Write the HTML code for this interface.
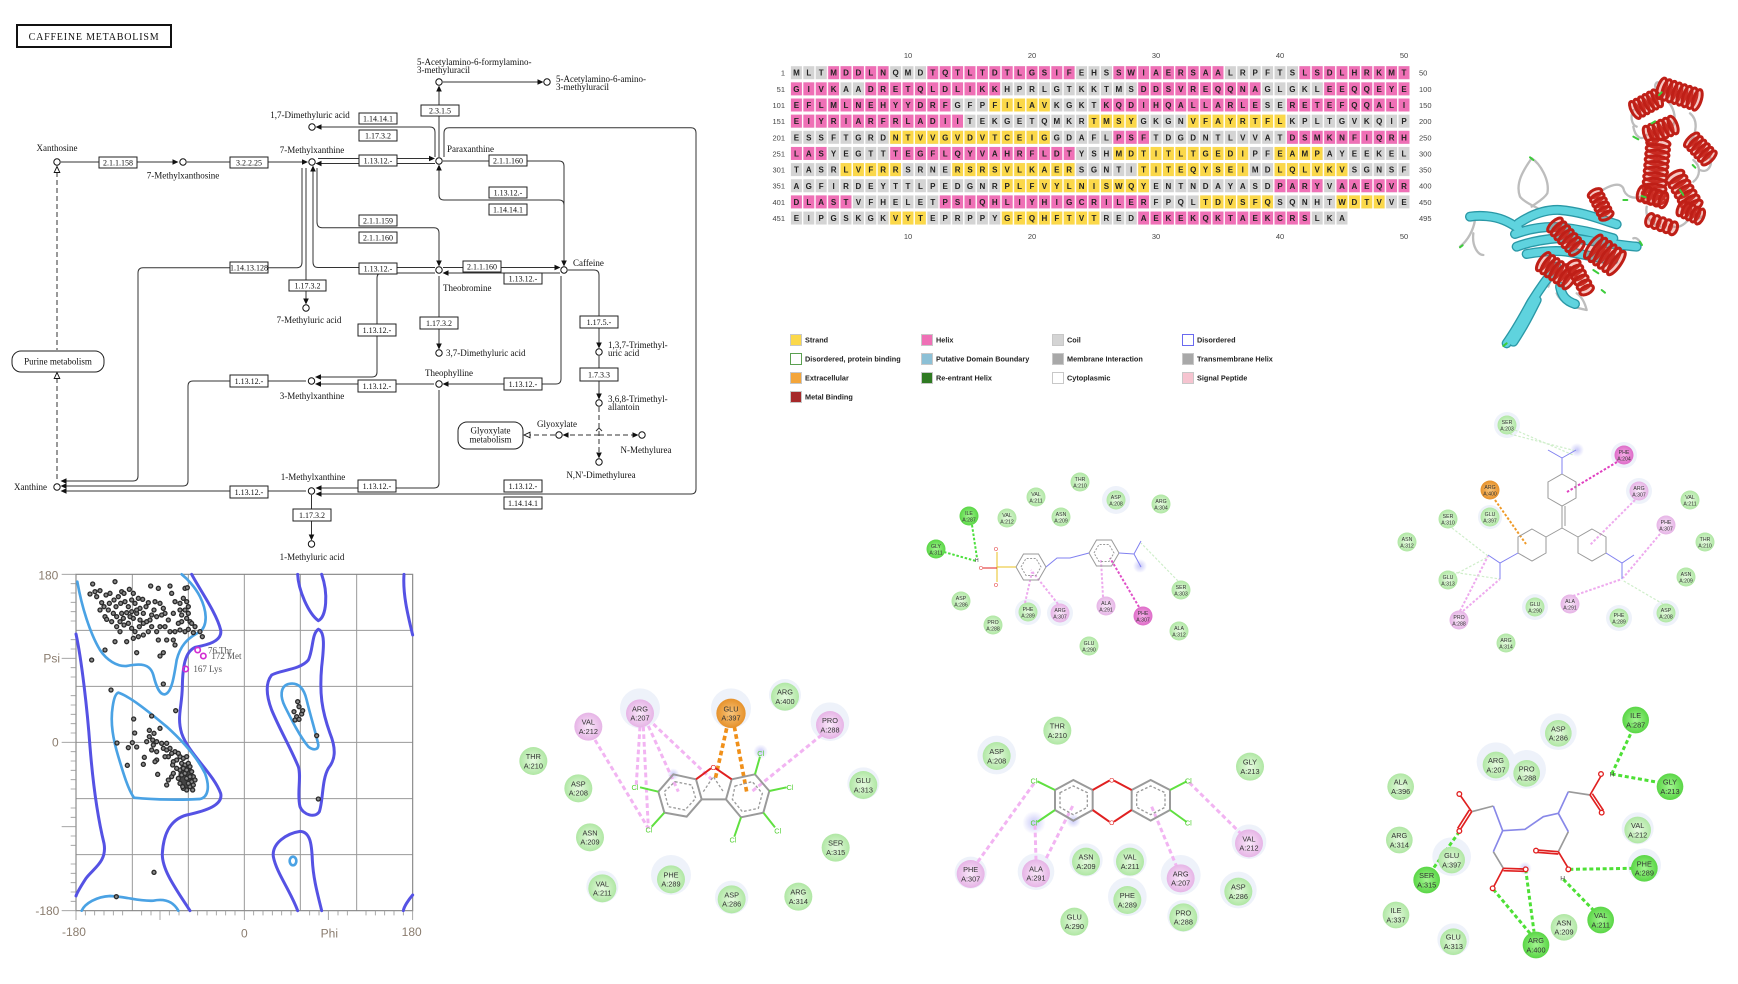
<!DOCTYPE html>
<html><head><meta charset="utf-8"><style>
html,body{margin:0;padding:0;background:#fff}
svg{display:block}
.k{font-family:"Liberation Serif",serif;font-size:9px;fill:#111}
.km{font-family:"Liberation Serif",serif;font-size:9px;fill:#111;text-anchor:middle}
.bx rect{fill:#fff;stroke:#222;stroke-width:1}
.bx text{font-family:"Liberation Serif",serif;font-size:8px;fill:#111;text-anchor:middle}
.ln{fill:none;stroke:#333;stroke-width:1}
.ds{fill:none;stroke:#333;stroke-width:1;stroke-dasharray:5,3}
.ci{fill:#fff;stroke:#111;stroke-width:1}
.seq{font-family:"Liberation Sans",sans-serif;font-weight:bold;font-size:8px;fill:#222;text-anchor:middle}
.sn{font-family:"Liberation Sans",sans-serif;font-size:7.5px;fill:#444}
.lg{font-family:"Liberation Sans",sans-serif;font-weight:bold;font-size:7.3px;fill:#222}
.n{font-family:"Liberation Sans",sans-serif;font-size:22px;fill:#333;text-anchor:middle}
.ns{font-family:"Liberation Sans",sans-serif;font-size:5.2px;fill:#333;text-anchor:middle}
.ax{font-family:"Liberation Sans",sans-serif;font-size:36px;fill:#8a7c6e}
.hx ellipse{fill:#e04a3a;fill-opacity:0.3;stroke:#bf1f17;stroke-width:9}
</style></head><body>
<svg width="1738" height="984" viewBox="0 0 1738 984" xmlns="http://www.w3.org/2000/svg">
<defs>
<radialGradient id="gL"><stop offset="0" stop-color="#e6fae0"/><stop offset="1" stop-color="#b0e7a4"/></radialGradient>
<radialGradient id="gG"><stop offset="0" stop-color="#a2f590"/><stop offset="1" stop-color="#5ad646"/></radialGradient>
<radialGradient id="gP"><stop offset="0" stop-color="#f9e8f9"/><stop offset="1" stop-color="#e6b4e6"/></radialGradient>
<radialGradient id="gM"><stop offset="0" stop-color="#f5aee8"/><stop offset="1" stop-color="#de6cc8"/></radialGradient>
<radialGradient id="gO"><stop offset="0" stop-color="#f8c47a"/><stop offset="1" stop-color="#e6922c"/></radialGradient>
<radialGradient id="gB"><stop offset="0" stop-color="#c8c8f8"/><stop offset="1" stop-color="#c8c8f8" stop-opacity="0"/></radialGradient>
<pattern id="gap" patternUnits="userSpaceOnUse" x="789.5" y="0" width="12.4" height="20"><rect x="0" y="0" width="1.4" height="20" fill="#fff"/></pattern>
</defs>
<rect width="1738" height="984" fill="#fff"/>

<!-- ================= KEGG ================= -->
<rect x="17" y="25" width="154" height="22" fill="#fff" stroke="#111" stroke-width="2"/>
<text x="94" y="40" style="font-family:'Liberation Serif',serif;font-size:10px;fill:#111;text-anchor:middle;letter-spacing:0.8px">CAFFEINE  METABOLISM</text>

<g>
<path class="ln" d="M61,162 H173"/>
<path class="ln" d="M187,162 H302"/>
<path class="ds" d="M57,172 V350"/>
<path class="ds" d="M57,378 V482"/>
<path class="ln" d="M318,158.5 H430"/>
<path class="ln" d="M435,163.5 H321"/>
<path class="ln" d="M321,127 H430 Q435,127 435,132 V157"/>
<path class="ln" d="M439,157 V91"/>
<path class="ln" d="M443,82 H538"/>
<path class="ln" d="M444,157 V133 Q444,127.7 449,127.7 H691 Q696,127.7 696,133 V489 Q696,494 691,494 H321"/>
<path class="ln" d="M443,161 H559 Q564,161 564,166 V261"/>
<path class="ln" d="M439,170 V195 Q439,200 444,200 H559 Q564,200 564,205"/>
<path class="ln" d="M317,168 V222 Q317,227.7 322,227.7 H434 Q439,227.7 439,233 V261"/>
<path class="ln" d="M435,267.5 H318 Q313,267.5 313,262 V171"/>
<path class="ln" d="M302,168 V262 Q302,267.7 297,267.7 H143 Q138,267.7 138,273 V476 Q138,481 133,481 H66"/>
<path class="ln" d="M306,168 V299"/>
<path class="ln" d="M435,273 H382 Q377,273 377,278 V372 Q377,377 372,377 H321"/>
<path class="ln" d="M434,384 H321"/>
<path class="ln" d="M306,381 H193 Q188,381 188,386 V481 Q188,486 183,486 H66"/>
<path class="ln" d="M561,276 V379 Q561,384 556,384 H448"/>
<path class="ln" d="M439,390 V483 Q439,488 434,488 H321"/>
<path class="ln" d="M439,276 V344"/>
<path class="ln" d="M568,270 H594 Q599,270 599,275 V343"/>
<path class="ln" d="M443,267.5 H555"/>
<path class="ln" d="M560,273 H448"/>
<path class="ln" d="M599,356 V394"/>
<path class="ds" d="M599,407 V453"/>
<path class="ds" d="M599,435 H568"/>
<path class="ds" d="M599,435 H633"/>
<path class="ds" d="M555,435 H530"/>
<path class="ln" d="M306,491 H66"/>
<path class="ln" d="M311.5,495 V535"/>
<path class="ln" d="M596,431 L599,428 L602,431"/>
</g>
<g fill="#111">
<polygon points="178.5,162 172.5,159.2 172.5,164.8"/>
<polygon points="308,162 302,159.2 302,164.8"/>
<polygon points="435,158.5 429,155.7 429,161.3"/>
<polygon points="315.5,163.5 321.5,160.7 321.5,166.3"/>
<polygon points="315.5,127 321.5,124.2 321.5,129.8"/>
<polygon points="439,85.5 436.2,91.5 441.8,91.5"/>
<polygon points="543.5,82 537.5,79.2 537.5,84.8"/>
<polygon points="315.5,494 321.5,491.2 321.5,496.8"/>
<polygon points="564,266.5 561.2,260.5 566.8,260.5"/>
<polygon points="439,164.5 436.2,170.5 441.8,170.5"/>
<polygon points="439,266.5 436.2,260.5 441.8,260.5"/>
<polygon points="313,165.5 310.2,171.5 315.8,171.5"/>
<polygon points="60.5,481 66.5,478.2 66.5,483.8"/>
<polygon points="306,304.5 303.2,298.5 308.8,298.5"/>
<polygon points="315,377 321,374.2 321,379.8"/>
<polygon points="315,384 321,381.2 321,386.8"/>
<polygon points="60.5,486 66.5,483.2 66.5,488.8"/>
<polygon points="442.5,384 448.5,381.2 448.5,386.8"/>
<polygon points="315.5,488 321.5,485.2 321.5,490.8"/>
<polygon points="439,349.5 436.2,343.5 441.8,343.5"/>
<polygon points="599,348.5 596.2,342.5 601.8,342.5"/>
<polygon points="560.5,267.5 554.5,264.7 554.5,270.3"/>
<polygon points="442.5,273 448.5,270.2 448.5,275.8"/>
<polygon points="599,399.5 596.2,393.5 601.8,393.5"/>
<polygon points="599,458.5 596.2,452.5 601.8,452.5"/>
<polygon points="562.5,435 568.5,432.2 568.5,437.8"/>
<polygon points="638.5,435 632.5,432.2 632.5,437.8"/>
<polygon points="60.5,491 66.5,488.2 66.5,493.8"/>
<polygon points="311.5,540.5 308.7,534.5 314.3,534.5"/>
</g>
<g fill="#fff" stroke="#111" stroke-width="0.9">
<polygon points="524,435 530,432.2 530,437.8"/>
<polygon points="57,166.5 54.2,172.5 59.8,172.5"/>
<polygon points="57,372.5 54.2,378.5 59.8,378.5"/>
</g>
<rect x="12" y="351" width="92" height="21" rx="9" fill="#fff" stroke="#222"/>
<text class="km" x="58" y="364.5">Purine metabolism</text>
<rect x="458" y="422" width="65" height="27" rx="9" fill="#fff" stroke="#222"/>
<text class="km" x="490.5" y="433.5">Glyoxylate</text>
<text class="km" x="490.5" y="442.5">metabolism</text>

<g class="bx">
<rect x="99" y="157" width="38" height="11"/><text x="118" y="165.5">2.1.1.158</text>
<rect x="230" y="157" width="38" height="11"/><text x="249" y="165.5">3.2.2.25</text>
<rect x="230" y="262" width="38" height="11"/><text x="249" y="270.5">1.14.13.128</text>
<rect x="289" y="280" width="37" height="11"/><text x="307.5" y="288.5">1.17.3.2</text>
<rect x="359" y="113" width="38" height="11"/><text x="378" y="121.5">1.14.14.1</text>
<rect x="359" y="130" width="38" height="11"/><text x="378" y="138.5">1.17.3.2</text>
<rect x="359" y="155" width="38" height="11"/><text x="378" y="163.5">1.13.12.-</text>
<rect x="421" y="105" width="38" height="11"/><text x="440" y="113.5">2.3.1.5</text>
<rect x="489" y="155" width="38" height="11"/><text x="508" y="163.5">2.1.1.160</text>
<rect x="489" y="187" width="38" height="11"/><text x="508" y="195.5">1.13.12.-</text>
<rect x="489" y="204" width="38" height="11"/><text x="508" y="212.5">1.14.14.1</text>
<rect x="359" y="215" width="38" height="11"/><text x="378" y="223.5">2.1.1.159</text>
<rect x="359" y="232" width="38" height="11"/><text x="378" y="240.5">2.1.1.160</text>
<rect x="359" y="263" width="38" height="11"/><text x="378" y="271.5">1.13.12.-</text>
<rect x="463" y="261" width="38" height="11"/><text x="482" y="269.5">2.1.1.160</text>
<rect x="504" y="273" width="38" height="11"/><text x="523" y="281.5">1.13.12.-</text>
<rect x="420" y="317" width="38" height="12"/><text x="439" y="326">1.17.3.2</text>
<rect x="580" y="316" width="38" height="12"/><text x="599" y="325">1.17.5.-</text>
<rect x="358" y="324" width="38" height="12"/><text x="377" y="333">1.13.12.-</text>
<rect x="580" y="368" width="38" height="13"/><text x="599" y="377.5">1.7.3.3</text>
<rect x="230" y="375" width="38" height="12"/><text x="249" y="384">1.13.12.-</text>
<rect x="358" y="380" width="38" height="12"/><text x="377" y="389">1.13.12.-</text>
<rect x="504" y="378" width="38" height="12"/><text x="523" y="387">1.13.12.-</text>
<rect x="230" y="486" width="38" height="12"/><text x="249" y="495">1.13.12.-</text>
<rect x="358" y="480" width="38" height="12"/><text x="377" y="489">1.13.12.-</text>
<rect x="504" y="480" width="38" height="12"/><text x="523" y="489">1.13.12.-</text>
<rect x="504" y="497" width="38" height="12"/><text x="523" y="506">1.14.14.1</text>
<rect x="293" y="509" width="38" height="12"/><text x="312" y="518">1.17.3.2</text>
</g>
<g>
<circle class="ci" cx="57" cy="162" r="3.2"/>
<circle class="ci" cx="183" cy="162" r="3.2"/>
<circle class="ci" cx="312" cy="162" r="3.2"/>
<circle class="ci" cx="312" cy="127" r="3.2"/>
<circle class="ci" cx="439" cy="161" r="3.2"/>
<circle class="ci" cx="439" cy="82" r="3.2"/>
<circle class="ci" cx="547" cy="82" r="3.2"/>
<circle class="ci" cx="439" cy="270" r="3.2"/>
<circle class="ci" cx="564" cy="270" r="3.2"/>
<circle class="ci" cx="306" cy="308" r="3.2"/>
<circle class="ci" cx="439" cy="353" r="3.2"/>
<circle class="ci" cx="599" cy="352" r="3.2"/>
<circle class="ci" cx="311.5" cy="381" r="3.2"/>
<circle class="ci" cx="439" cy="384" r="3.2"/>
<circle class="ci" cx="599" cy="403" r="3.2"/>
<circle class="ci" cx="559" cy="435" r="3.2"/>
<circle class="ci" cx="642" cy="435" r="3.2"/>
<circle class="ci" cx="599" cy="462" r="3.2"/>
<circle class="ci" cx="57" cy="487" r="3.2"/>
<circle class="ci" cx="311.5" cy="491" r="3.2"/>
<circle class="ci" cx="311.5" cy="544" r="3.2"/>
</g>
<g>
<text class="km" x="57" y="151">Xanthosine</text>
<text class="km" x="183" y="178.5">7-Methylxanthosine</text>
<text class="km" x="312" y="153">7-Methylxanthine</text>
<text class="km" x="310" y="118">1,7-Dimethyluric acid</text>
<text class="k" x="417" y="65">5-Acetylamino-6-formylamino-</text>
<text class="k" x="417" y="73">3-methyluracil</text>
<text class="k" x="556" y="82">5-Acetylamino-6-amino-</text>
<text class="k" x="556" y="90">3-methyluracil</text>
<text class="k" x="447" y="152">Paraxanthine</text>
<text class="k" x="443" y="291">Theobromine</text>
<text class="k" x="573" y="266">Caffeine</text>
<text class="km" x="309" y="323">7-Methyluric acid</text>
<text class="k" x="446" y="356">3,7-Dimethyluric acid</text>
<text class="k" x="608" y="348">1,3,7-Trimethyl-</text>
<text class="k" x="608" y="356">uric acid</text>
<text class="km" x="449" y="376">Theophylline</text>
<text class="km" x="312" y="399">3-Methylxanthine</text>
<text class="k" x="608" y="402">3,6,8-Trimethyl-</text>
<text class="k" x="608" y="410">allantoin</text>
<text class="km" x="557" y="427">Glyoxylate</text>
<text class="km" x="646" y="453">N-Methylurea</text>
<text class="km" x="601" y="478">N,N'-Dimethylurea</text>
<text class="km" x="313" y="480">1-Methylxanthine</text>
<text class="km" x="312" y="560">1-Methyluric acid</text>
<text class="k" x="47" y="490" text-anchor="end">Xanthine</text>
</g>

<!-- ================= SEQUENCE ================= -->
<g class="sn">
<text x="908" y="58" text-anchor="middle">10</text><text x="1032" y="58" text-anchor="middle">20</text><text x="1156" y="58" text-anchor="middle">30</text><text x="1280" y="58" text-anchor="middle">40</text><text x="1404" y="58" text-anchor="middle">50</text>
<text x="908" y="239" text-anchor="middle">10</text><text x="1032" y="239" text-anchor="middle">20</text><text x="1156" y="239" text-anchor="middle">30</text><text x="1280" y="239" text-anchor="middle">40</text><text x="1404" y="239" text-anchor="middle">50</text>
</g>
<g class="sn" text-anchor="end">
<text x="785" y="75.7">1</text><text x="785" y="91.8">51</text><text x="785" y="108">101</text><text x="785" y="124.1">151</text><text x="785" y="140.3">201</text><text x="785" y="156.4">251</text><text x="785" y="172.6">301</text><text x="785" y="188.7">351</text><text x="785" y="204.9">401</text><text x="785" y="221">451</text>
</g>
<g class="sn">
<text x="1419" y="75.7">50</text><text x="1419" y="91.8">100</text><text x="1419" y="108">150</text><text x="1419" y="124.1">200</text><text x="1419" y="140.3">250</text><text x="1419" y="156.4">300</text><text x="1419" y="172.6">350</text><text x="1419" y="188.7">400</text><text x="1419" y="204.9">450</text><text x="1419" y="221">495</text>
</g>
<g transform="translate(789.5,66.2) scale(12.4,1)"><rect x="0" width="50" height="13" fill="#d4d4d4"/><g fill="#ef70b6"><rect x="3" width="5" height="13"/><rect x="11" width="12" height="13"/><rect x="26" width="9" height="13"/><rect x="41" width="9" height="13"/></g></g>
<g transform="translate(789.5,82.35) scale(12.4,1)"><rect x="0" width="50" height="13" fill="#d4d4d4"/><g fill="#ef70b6"><rect x="0" width="4" height="13"/><rect x="6" width="11" height="13"/><rect x="28" width="10" height="13"/><rect x="43" width="7" height="13"/></g></g>
<g transform="translate(789.5,98.5) scale(12.4,1)"><rect x="0" width="50" height="13" fill="#d4d4d4"/><g fill="#ef70b6"><rect x="0" width="13" height="13"/><rect x="25" width="13" height="13"/><rect x="40" width="10" height="13"/></g><rect x="16" width="5" height="13" fill="#fbd84a"/></g>
<g transform="translate(789.5,114.65) scale(12.4,1)"><rect x="0" width="50" height="13" fill="#d4d4d4"/><rect x="0" width="14" height="13" fill="#ef70b6"/><g fill="#fbd84a"><rect x="24" width="4" height="13"/><rect x="32" width="8" height="13"/></g></g>
<g transform="translate(789.5,130.8) scale(12.4,1)"><rect x="0" width="50" height="13" fill="#d4d4d4"/><rect x="8" width="13" height="13" fill="#fbd84a"/><g fill="#ef70b6"><rect x="26" width="3" height="13"/><rect x="40" width="10" height="13"/></g></g>
<g transform="translate(789.5,146.95) scale(12.4,1)"><rect x="0" width="50" height="13" fill="#d4d4d4"/><g fill="#ef70b6"><rect x="0" width="3" height="13"/><rect x="8" width="15" height="13"/></g><g fill="#fbd84a"><rect x="26" width="11" height="13"/><rect x="39" width="4" height="13"/></g></g>
<g transform="translate(789.5,163.1) scale(12.4,1)"><rect x="0" width="50" height="13" fill="#d4d4d4"/><g fill="#fbd84a"><rect x="4" width="5" height="13"/><rect x="13" width="10" height="13"/><rect x="28" width="9" height="13"/><rect x="39" width="6" height="13"/></g></g>
<g transform="translate(789.5,179.25) scale(12.4,1)"><rect x="0" width="50" height="13" fill="#d4d4d4"/><rect x="17" width="12" height="13" fill="#fbd84a"/><g fill="#ef70b6"><rect x="39" width="4" height="13"/><rect x="44" width="6" height="13"/></g></g>
<g transform="translate(789.5,195.4) scale(12.4,1)"><rect x="0" width="50" height="13" fill="#d4d4d4"/><g fill="#ef70b6"><rect x="0" width="5" height="13"/><rect x="12" width="17" height="13"/></g><g fill="#fbd84a"><rect x="33" width="6" height="13"/><rect x="44" width="4" height="13"/></g></g>
<g transform="translate(789.5,211.55) scale(12.4,1)"><rect x="0" width="45" height="13" fill="#d4d4d4"/><g fill="#fbd84a"><rect x="8" width="3" height="13"/><rect x="17" width="8" height="13"/></g><rect x="28" width="14" height="13" fill="#ef70b6"/></g>
<rect x="789" y="60" width="624" height="168" fill="url(#gap)"/>
<g class="seq">
<text y="75.7" x="796.4 808.8 821.2 833.6 846 858.4 870.8 883.2 895.6 908 920.4 932.8 945.2 957.6 970 982.4 994.8 1007.2 1019.6 1032 1044.4 1056.8 1069.2 1081.6 1094 1106.4 1118.8 1131.2 1143.6 1156 1168.4 1180.8 1193.2 1205.6 1218 1230.4 1242.8 1255.2 1267.6 1280 1292.4 1304.8 1317.2 1329.6 1342 1354.4 1366.8 1379.2 1391.6 1404">MLTMDDLNQMDTQTLTDTLGSIFEHSSWIAERSAALRPFTSLSDLHRKMT</text>
<text y="91.85" x="796.4 808.8 821.2 833.6 846 858.4 870.8 883.2 895.6 908 920.4 932.8 945.2 957.6 970 982.4 994.8 1007.2 1019.6 1032 1044.4 1056.8 1069.2 1081.6 1094 1106.4 1118.8 1131.2 1143.6 1156 1168.4 1180.8 1193.2 1205.6 1218 1230.4 1242.8 1255.2 1267.6 1280 1292.4 1304.8 1317.2 1329.6 1342 1354.4 1366.8 1379.2 1391.6 1404">GIVKAADRETQLDLIKKHPRLGTKKTMSDDSVREQQNAGLGKLEEQQEYE</text>
<text y="108" x="796.4 808.8 821.2 833.6 846 858.4 870.8 883.2 895.6 908 920.4 932.8 945.2 957.6 970 982.4 994.8 1007.2 1019.6 1032 1044.4 1056.8 1069.2 1081.6 1094 1106.4 1118.8 1131.2 1143.6 1156 1168.4 1180.8 1193.2 1205.6 1218 1230.4 1242.8 1255.2 1267.6 1280 1292.4 1304.8 1317.2 1329.6 1342 1354.4 1366.8 1379.2 1391.6 1404">EFLMLNEHYYDRFGFPFILAVKGKTKQDIHQALLARLESERETEFQQALI</text>
<text y="124.15" x="796.4 808.8 821.2 833.6 846 858.4 870.8 883.2 895.6 908 920.4 932.8 945.2 957.6 970 982.4 994.8 1007.2 1019.6 1032 1044.4 1056.8 1069.2 1081.6 1094 1106.4 1118.8 1131.2 1143.6 1156 1168.4 1180.8 1193.2 1205.6 1218 1230.4 1242.8 1255.2 1267.6 1280 1292.4 1304.8 1317.2 1329.6 1342 1354.4 1366.8 1379.2 1391.6 1404">EIYRIARFRLADIITEKGETQMKRTMSYGKGNVFAYRTFLKPLTGVKQIP</text>
<text y="140.3" x="796.4 808.8 821.2 833.6 846 858.4 870.8 883.2 895.6 908 920.4 932.8 945.2 957.6 970 982.4 994.8 1007.2 1019.6 1032 1044.4 1056.8 1069.2 1081.6 1094 1106.4 1118.8 1131.2 1143.6 1156 1168.4 1180.8 1193.2 1205.6 1218 1230.4 1242.8 1255.2 1267.6 1280 1292.4 1304.8 1317.2 1329.6 1342 1354.4 1366.8 1379.2 1391.6 1404">ESSFTGRDNTVVGVDVTCEIGGDAFLPSFTDGDNTLVVATDSMKNFIQRH</text>
<text y="156.45" x="796.4 808.8 821.2 833.6 846 858.4 870.8 883.2 895.6 908 920.4 932.8 945.2 957.6 970 982.4 994.8 1007.2 1019.6 1032 1044.4 1056.8 1069.2 1081.6 1094 1106.4 1118.8 1131.2 1143.6 1156 1168.4 1180.8 1193.2 1205.6 1218 1230.4 1242.8 1255.2 1267.6 1280 1292.4 1304.8 1317.2 1329.6 1342 1354.4 1366.8 1379.2 1391.6 1404">LASYEGTTTEGFLQYVAHRFLDTYSHMDTITLTGEDIPFEAMPAYEEKEL</text>
<text y="172.6" x="796.4 808.8 821.2 833.6 846 858.4 870.8 883.2 895.6 908 920.4 932.8 945.2 957.6 970 982.4 994.8 1007.2 1019.6 1032 1044.4 1056.8 1069.2 1081.6 1094 1106.4 1118.8 1131.2 1143.6 1156 1168.4 1180.8 1193.2 1205.6 1218 1230.4 1242.8 1255.2 1267.6 1280 1292.4 1304.8 1317.2 1329.6 1342 1354.4 1366.8 1379.2 1391.6 1404">TASRLVFRRSRNERSRSVLKAERSGNTITITEQYSEIMDLQLVKVSGNSF</text>
<text y="188.75" x="796.4 808.8 821.2 833.6 846 858.4 870.8 883.2 895.6 908 920.4 932.8 945.2 957.6 970 982.4 994.8 1007.2 1019.6 1032 1044.4 1056.8 1069.2 1081.6 1094 1106.4 1118.8 1131.2 1143.6 1156 1168.4 1180.8 1193.2 1205.6 1218 1230.4 1242.8 1255.2 1267.6 1280 1292.4 1304.8 1317.2 1329.6 1342 1354.4 1366.8 1379.2 1391.6 1404">AGFIRDEYTTLPEDGNRPLFVYLNISWQYENTNDAYASDPARYVAAEQVR</text>
<text y="204.9" x="796.4 808.8 821.2 833.6 846 858.4 870.8 883.2 895.6 908 920.4 932.8 945.2 957.6 970 982.4 994.8 1007.2 1019.6 1032 1044.4 1056.8 1069.2 1081.6 1094 1106.4 1118.8 1131.2 1143.6 1156 1168.4 1180.8 1193.2 1205.6 1218 1230.4 1242.8 1255.2 1267.6 1280 1292.4 1304.8 1317.2 1329.6 1342 1354.4 1366.8 1379.2 1391.6 1404">DLASTVFHELETPSIQHLIYHIGCRILERFPQLTDVSFQSQNHTWDTVVE</text>
<text y="221.05" x="796.4 808.8 821.2 833.6 846 858.4 870.8 883.2 895.6 908 920.4 932.8 945.2 957.6 970 982.4 994.8 1007.2 1019.6 1032 1044.4 1056.8 1069.2 1081.6 1094 1106.4 1118.8 1131.2 1143.6 1156 1168.4 1180.8 1193.2 1205.6 1218 1230.4 1242.8 1255.2 1267.6 1280 1292.4 1304.8 1317.2 1329.6 1342 1354.4">EIPGSKGKVYTEPRPPYGFQHFTVTREDAEKEKQKTAEKCRSLKA</text>
</g>

<!-- ================= LEGEND ================= -->
<g stroke="#c8c8c8" stroke-width="1">
<rect x="790.5" y="334.5" width="11" height="11" fill="#fbd84a"/>
<rect x="790.5" y="353.5" width="11" height="11" fill="#fff" stroke="#5aa050"/>
<rect x="790.5" y="372.5" width="11" height="11" fill="#f3a53a"/>
<rect x="790.5" y="391.5" width="11" height="11" fill="#a6292a"/>
<rect x="921.5" y="334.5" width="11" height="11" fill="#ef70b6"/>
<rect x="921.5" y="353.5" width="11" height="11" fill="#8cc0d6"/>
<rect x="921.5" y="372.5" width="11" height="11" fill="#2f7a22"/>
<rect x="1052.5" y="334.5" width="11" height="11" fill="#d4d4d4"/>
<rect x="1052.5" y="353.5" width="11" height="11" fill="#a8a8a8"/>
<rect x="1052.5" y="372.5" width="11" height="11" fill="#fff"/>
<rect x="1182.5" y="334.5" width="11" height="11" fill="#fff" stroke="#6a6af0"/>
<rect x="1182.5" y="353.5" width="11" height="11" fill="#a8a8a8"/>
<rect x="1182.5" y="372.5" width="11" height="11" fill="#f6c4d0"/>
</g>
<g class="lg">
<text x="805" y="342.5">Strand</text>
<text x="805" y="361.5">Disordered, protein binding</text>
<text x="805" y="380.5">Extracellular</text>
<text x="805" y="399.5">Metal Binding</text>
<text x="936" y="342.5">Helix</text>
<text x="936" y="361.5">Putative Domain Boundary</text>
<text x="936" y="380.5">Re-entrant Helix</text>
<text x="1067" y="342.5">Coil</text>
<text x="1067" y="361.5">Membrane Interaction</text>
<text x="1067" y="380.5">Cytoplasmic</text>
<text x="1197" y="342.5">Disordered</text>
<text x="1197" y="361.5">Transmembrane Helix</text>
<text x="1197" y="380.5">Signal Peptide</text>
</g>

<!-- ================= RAMACHANDRAN ================= -->
<g transform="translate(0,560) scale(0.333333)">
<g stroke="#999" stroke-width="3">
<line x1="397" y1="43" x2="397" y2="1052"/><line x1="565" y1="43" x2="565" y2="1052"/><line x1="733" y1="43" x2="733" y2="1052"/><line x1="901" y1="43" x2="901" y2="1052"/><line x1="1070" y1="43" x2="1070" y2="1052"/>
<line x1="228" y1="211" x2="1238" y2="211"/><line x1="228" y1="379" x2="1238" y2="379"/><line x1="228" y1="547" x2="1238" y2="547"/><line x1="228" y1="716" x2="1238" y2="716"/><line x1="228" y1="884" x2="1238" y2="884"/>
</g>
<rect x="228" y="43" width="1010" height="1009" fill="none" stroke="#888" stroke-width="3.5"/>
<path stroke="#999" stroke-width="2.5" fill="none" d="M212,71H228M212,99H228M212,127H228M212,155H228M212,183H228M212,239H228M212,267H228M185,295H228M212,323H228M212,351H228M212,407H228M212,435H228M212,463H228M212,491H228M212,519H228M185,547H228M212,575H228M212,603H228M212,631H228M212,659H228M212,687H228M212,744H228M212,772H228M185,800H228M212,828H228M212,856H228M212,912H228M212,940H228M212,968H228M212,996H228M212,1024H228M185,43H228M185,1052H228
M256,1052V1066M284,1052V1066M312,1052V1066M340,1052V1066M368,1052V1066M425,1052V1066M453,1052V1066M480,1052V1080M508,1052V1066M537,1052V1066M593,1052V1066M621,1052V1066M649,1052V1066M677,1052V1066M705,1052V1066M733,1052V1080M761,1052V1066M789,1052V1066M817,1052V1066M845,1052V1066M873,1052V1066M929,1052V1066M957,1052V1066M985,1052V1080M1014,1052V1066M1042,1052V1066M1098,1052V1066M1126,1052V1066M1154,1052V1066M1182,1052V1066M1210,1052V1066M228,1052V1080M1238,1052V1080"/>
<g fill="none" stroke="#5552e4" stroke-width="9" stroke-linecap="round">
<path d="M575,43 C600,90 650,160 662,210 C668,245 620,255 585,262 C555,275 548,320 547,380 C546,440 530,470 545,520 C565,580 640,640 662,700 C670,735 620,752 560,765 C505,780 490,830 487,880 C485,930 530,990 570,1052"/>
<path d="M228,222 C245,300 262,450 270,560 C278,660 290,760 312,850 C322,905 280,925 258,955 C245,975 232,995 228,1008"/>
<path d="M1212,43 C1208,100 1222,160 1238,225"/>
<path d="M1238,1005 C1225,1020 1212,1040 1210,1052"/>
<path d="M893,43 C895,90 925,160 955,182 C980,170 985,100 965,43"/>
<path d="M955,208 C975,215 972,260 965,320 C958,400 965,450 990,520 C1010,570 1005,600 985,625 C965,660 970,720 958,755 C945,775 910,765 900,740 C890,700 905,650 895,620 C870,560 840,510 815,450 C800,410 795,370 815,345 C840,330 900,330 925,300 C940,270 935,220 955,208 Z"/>
<path d="M893,1052 C870,990 830,940 820,890 C815,850 860,820 900,814 C930,815 935,850 937,900 C940,960 955,1010 965,1052"/>
</g>
<g fill="none" stroke="#4aa2e4" stroke-width="8" stroke-linecap="round">
<path d="M232,65 C245,140 270,220 300,270 C320,300 350,320 380,318 C420,310 450,310 460,345 C470,385 480,405 495,403 C515,398 522,350 530,300 C540,260 560,235 600,215 C625,195 620,150 600,110 C585,80 560,55 545,43"/>
<path d="M355,398 C390,410 440,450 500,500 C550,545 590,590 615,640 C630,680 625,712 600,717 C550,720 470,720 402,713 C385,690 370,640 355,590 C340,540 330,490 338,440 C342,412 348,400 355,398 Z"/>
<path d="M865,372 C895,365 912,385 920,420 C932,470 948,520 955,555 C955,570 940,572 925,560 C900,530 875,480 855,440 C840,410 840,380 865,372 Z"/>
<ellipse cx="879" cy="903" rx="10" ry="13"/>
<path d="M245,1052 C255,1030 290,1010 330,1008 C380,1010 420,1025 460,1022 C495,1015 520,1025 535,1052"/>
</g>
<ellipse cx="557" cy="650" rx="22" ry="42" fill="#444"/>
<g fill="#8a8a8a" stroke="#2a2a2a" stroke-width="4">
<circle cx="278" cy="72" r="6"/><circle cx="270" cy="102" r="6"/><circle cx="285" cy="95" r="6"/><circle cx="300" cy="92" r="6"/><circle cx="290" cy="110" r="6"/><circle cx="305" cy="128" r="6"/><circle cx="318" cy="105" r="6"/><circle cx="330" cy="100" r="6"/><circle cx="345" cy="65" r="6"/><circle cx="342" cy="120" r="6"/><circle cx="355" cy="110" r="6"/><circle cx="365" cy="95" r="6"/><circle cx="372" cy="100" r="6"/><circle cx="388" cy="88" r="6"/><circle cx="362" cy="130" r="6"/><circle cx="375" cy="125" r="6"/><circle cx="385" cy="140" r="6"/><circle cx="395" cy="120" r="6"/><circle cx="405" cy="130" r="6"/><circle cx="415" cy="115" r="6"/><circle cx="428" cy="118" r="6"/><circle cx="420" cy="145" r="6"/><circle cx="410" cy="160" r="6"/><circle cx="400" cy="175" r="6"/><circle cx="390" cy="170" r="6"/><circle cx="380" cy="158" r="6"/><circle cx="370" cy="175" r="6"/><circle cx="360" cy="185" r="6"/><circle cx="350" cy="170" r="6"/><circle cx="340" cy="160" r="6"/><circle cx="325" cy="150" r="6"/><circle cx="315" cy="170" r="6"/><circle cx="320" cy="178" r="6"/><circle cx="335" cy="185" r="6"/><circle cx="350" cy="200" r="6"/><circle cx="360" cy="215" r="6"/><circle cx="372" cy="195" r="6"/><circle cx="385" cy="190" r="6"/><circle cx="395" cy="205" r="6"/><circle cx="405" cy="215" r="6"/><circle cx="418" cy="200" r="6"/><circle cx="430" cy="190" r="6"/><circle cx="440" cy="185" r="6"/><circle cx="450" cy="180" r="6"/><circle cx="455" cy="200" r="6"/><circle cx="445" cy="215" r="6"/><circle cx="430" cy="225" r="6"/><circle cx="415" cy="230" r="6"/><circle cx="400" cy="235" r="6"/><circle cx="380" cy="245" r="6"/><circle cx="345" cy="245" r="6"/><circle cx="315" cy="270" r="6"/><circle cx="275" cy="300" r="6"/><circle cx="410" cy="278" r="6"/><circle cx="480" cy="288" r="6"/><circle cx="490" cy="278" r="6"/><circle cx="500" cy="240" r="6"/><circle cx="520" cy="240" r="6"/><circle cx="525" cy="255" r="6"/><circle cx="475" cy="240" r="6"/><circle cx="470" cy="215" r="6"/><circle cx="480" cy="200" r="6"/><circle cx="495" cy="200" r="6"/><circle cx="510" cy="215" r="6"/><circle cx="525" cy="215" r="6"/><circle cx="540" cy="210" r="6"/><circle cx="555" cy="215" r="6"/><circle cx="565" cy="208" r="6"/><circle cx="580" cy="218" r="6"/><circle cx="600" cy="215" r="6"/><circle cx="607" cy="230" r="6"/><circle cx="585" cy="200" r="6"/><circle cx="570" cy="185" r="6"/><circle cx="560" cy="175" r="6"/><circle cx="545" cy="185" r="6"/><circle cx="535" cy="190" r="6"/><circle cx="545" cy="165" r="6"/><circle cx="555" cy="150" r="6"/><circle cx="565" cy="140" r="6"/><circle cx="560" cy="125" r="6"/><circle cx="550" cy="115" r="6"/><circle cx="540" cy="130" r="6"/><circle cx="525" cy="125" r="6"/><circle cx="515" cy="100" r="6"/><circle cx="510" cy="78" r="6"/><circle cx="555" cy="85" r="6"/><circle cx="562" cy="83" r="6"/><circle cx="452" cy="78" r="6"/><circle cx="475" cy="85" r="6"/><circle cx="465" cy="125" r="6"/><circle cx="480" cy="130" r="6"/><circle cx="490" cy="145" r="6"/><circle cx="495" cy="160" r="6"/><circle cx="485" cy="165" r="6"/><circle cx="470" cy="170" r="6"/><circle cx="455" cy="165" r="6"/><circle cx="462" cy="150" r="6"/><circle cx="505" cy="180" r="6"/><circle cx="520" cy="160" r="6"/><circle cx="540" cy="150" r="6"/><circle cx="565" cy="160" r="6"/><circle cx="575" cy="190" r="6"/><circle cx="430" cy="160" r="6"/><circle cx="438" cy="140" r="6"/><circle cx="445" cy="128" r="6"/><circle cx="400" cy="100" r="6"/><circle cx="410" cy="150" r="6"/><circle cx="300" cy="150" r="6"/><circle cx="312" cy="140" r="6"/><circle cx="328" cy="130" r="6"/><circle cx="348" cy="140" r="6"/><circle cx="395" cy="155" r="6"/><circle cx="420" cy="180" r="6"/><circle cx="365" cy="160" r="6"/>
<circle cx="401" cy="477" r="6"/><circle cx="455" cy="468" r="6"/><circle cx="404" cy="519" r="6"/><circle cx="351" cy="549" r="6"/><circle cx="382" cy="616" r="6"/><circle cx="397" cy="548" r="6"/><circle cx="410" cy="561" r="6"/><circle cx="385" cy="563" r="6"/><circle cx="433" cy="592" r="6"/><circle cx="430" cy="613" r="6"/><circle cx="448" cy="511" r="6"/><circle cx="458" cy="540" r="6"/><circle cx="460" cy="555" r="6"/><circle cx="470" cy="545" r="6"/><circle cx="455" cy="570" r="6"/><circle cx="470" cy="575" r="6"/><circle cx="480" cy="505" r="6"/><circle cx="485" cy="550" r="6"/><circle cx="490" cy="565" r="6"/><circle cx="500" cy="570" r="6"/><circle cx="505" cy="590" r="6"/><circle cx="495" cy="590" r="6"/><circle cx="470" cy="600" r="6"/><circle cx="465" cy="605" r="6"/><circle cx="473" cy="643" r="6"/><circle cx="500" cy="675" r="6"/><circle cx="505" cy="660" r="6"/><circle cx="515" cy="650" r="6"/><circle cx="520" cy="640" r="6"/><circle cx="530" cy="600" r="6"/><circle cx="520" cy="605" r="6"/><circle cx="540" cy="590" r="6"/><circle cx="550" cy="595" r="6"/><circle cx="560" cy="590" r="6"/><circle cx="545" cy="610" r="6"/><circle cx="555" cy="615" r="6"/><circle cx="565" cy="610" r="6"/><circle cx="570" cy="620" r="6"/><circle cx="575" cy="635" r="6"/><circle cx="580" cy="650" r="6"/><circle cx="575" cy="665" r="6"/><circle cx="570" cy="680" r="6"/><circle cx="560" cy="690" r="6"/><circle cx="550" cy="685" r="6"/><circle cx="540" cy="670" r="6"/><circle cx="535" cy="655" r="6"/><circle cx="545" cy="645" r="6"/><circle cx="555" cy="640" r="6"/><circle cx="560" cy="655" r="6"/><circle cx="565" cy="670" r="6"/><circle cx="540" cy="630" r="6"/><circle cx="550" cy="625" r="6"/><circle cx="560" cy="630" r="6"/><circle cx="570" cy="650" r="6"/><circle cx="548" cy="680" r="6"/><circle cx="578" cy="690" r="6"/><circle cx="530" cy="625" r="6"/><circle cx="525" cy="575" r="6"/><circle cx="515" cy="580" r="6"/><circle cx="535" cy="580" r="6"/><circle cx="500" cy="550" r="6"/><circle cx="510" cy="565" r="6"/><circle cx="440" cy="545" r="6"/><circle cx="448" cy="530" r="6"/><circle cx="462" cy="520" r="6"/><circle cx="518" cy="615" r="6"/><circle cx="585" cy="660" r="6"/><circle cx="580" cy="675" r="6"/>
<circle cx="893" cy="425" r="6"/><circle cx="897" cy="440" r="6"/><circle cx="882" cy="455" r="6"/><circle cx="890" cy="470" r="6"/><circle cx="905" cy="462" r="6"/><circle cx="908" cy="452" r="6"/><circle cx="885" cy="480" r="6"/><circle cx="897" cy="478" r="6"/>
<circle cx="333" cy="390" r="6"/><circle cx="490" cy="372" r="6"/><circle cx="527" cy="452" r="6"/><circle cx="950" cy="527" r="6"/><circle cx="955" cy="717" r="6"/><circle cx="462" cy="937" r="6"/><circle cx="349" cy="1010" r="6"/>
</g>
<g fill="none" stroke="#d22cd2" stroke-width="5"><circle cx="593" cy="270" r="8"/><circle cx="610" cy="288" r="8"/><circle cx="557" cy="327" r="8"/></g>
<g style="font-family:'Liberation Serif',serif;font-size:27px;fill:#555">
<text x="624" y="280">76 Thr</text><text x="634" y="297">172 Met</text><text x="580" y="336">167 Lys</text>
</g>
<text class="ax" x="175" y="58" text-anchor="end">180</text>
<text class="ax" x="180" y="308" text-anchor="end">Psi</text>
<text class="ax" x="176" y="560" text-anchor="end">0</text>
<text class="ax" x="178" y="1065" text-anchor="end">-180</text>
<text class="ax" x="222" y="1128" text-anchor="middle">-180</text>
<text class="ax" x="733" y="1133" text-anchor="middle">0</text>
<text class="ax" x="988" y="1133" text-anchor="middle">Phi</text>
<text class="ax" x="1235" y="1128" text-anchor="middle">180</text>
</g>

<!-- ================= PROTEIN ================= -->
<g transform="translate(1460,60) scale(0.333333)" stroke-linecap="round" stroke-linejoin="round">
<g fill="none" stroke="#bdbdbd" stroke-width="7">
<path d="M215,295 C240,310 270,360 262,400 C250,420 225,430 215,440"/>
<path d="M215,295 C190,330 165,370 180,410 C195,430 230,440 240,450"/>
<path d="M0,560 C25,540 40,510 45,480"/>
<path d="M40,520 C35,560 55,585 70,585"/>
<path d="M420,395 C450,375 480,365 490,385 C495,410 520,418 545,410"/>
<path d="M520,200 C525,230 545,245 560,225"/>
<path d="M690,160 C715,180 710,220 690,245"/>
<path d="M700,300 C725,320 720,350 700,365"/>
<path d="M560,440 C555,470 570,490 600,500"/>
<path d="M290,700 C300,725 330,740 380,750 C375,730 365,710 350,700"/>
<path d="M300,615 C285,640 270,660 265,680"/>
<path d="M620,120 C640,140 650,170 640,195"/>
<path d="M700,470 C720,480 740,470 730,445"/>
<path d="M540,560 C545,545 530,530 520,535"/>
<path d="M520,150 C510,170 515,195 530,200"/>
<path d="M600,70 C590,60 580,75 590,90"/>
<path d="M640,500 C660,505 680,490 690,470"/>
<path d="M750,290 C760,320 740,340 720,330"/>
</g>
<g fill="none" stroke="#2a98a6" stroke-width="30">
<path d="M175,490 C220,460 260,448 300,450 C370,456 420,478 470,493"/>
<path d="M165,522 C210,505 260,498 300,502 C360,508 410,520 460,535"/>
<path d="M170,560 C210,545 250,538 300,534 C350,532 420,550 530,560"/>
<path d="M200,582 C240,575 280,570 320,575 C380,585 420,595 460,600"/>
<path d="M30,470 C60,465 100,468 130,480 C150,488 165,498 175,505"/>
<path d="M290,620 C265,650 240,685 215,725 C195,760 175,800 140,850"/>
<path d="M230,720 C210,760 190,800 160,845"/>
<path d="M300,680 C305,705 315,722 345,732"/>
</g>
<g fill="none" stroke="#5fd3de" stroke-width="22">
<path d="M175,490 C220,460 260,448 300,450 C370,456 420,478 470,493"/>
<path d="M165,522 C210,505 260,498 300,502 C360,508 410,520 460,535"/>
<path d="M170,560 C210,545 250,538 300,534 C350,532 420,550 530,560"/>
<path d="M200,582 C240,575 280,570 320,575 C380,585 420,595 460,600"/>
<path d="M30,470 C60,465 100,468 130,480 C150,488 165,498 175,505"/>
<path d="M290,620 C265,650 240,685 215,725 C195,760 175,800 140,850"/>
<path d="M230,720 C210,760 190,800 160,845"/>
<path d="M300,680 C305,705 315,722 345,732"/>
</g>
<g class="hx">
<g transform="translate(250,605) rotate(34.5)"><ellipse cx="0" cy="0" rx="12" ry="32"/><ellipse cx="16" cy="0" rx="12" ry="32"/><ellipse cx="32" cy="0" rx="12" ry="32"/><ellipse cx="48" cy="0" rx="12" ry="32"/><ellipse cx="64" cy="0" rx="12" ry="32"/><ellipse cx="80" cy="0" rx="12" ry="32"/><ellipse cx="96" cy="0" rx="12" ry="32"/></g>
<g transform="translate(285,495) rotate(47)"><ellipse cx="0" cy="0" rx="12" ry="28"/><ellipse cx="16" cy="0" rx="12" ry="28"/><ellipse cx="32" cy="0" rx="12" ry="28"/><ellipse cx="48" cy="0" rx="12" ry="28"/><ellipse cx="64" cy="0" rx="12" ry="28"/><ellipse cx="80" cy="0" rx="12" ry="28"/><ellipse cx="96" cy="0" rx="12" ry="28"/></g>
<g transform="translate(405,400) rotate(63)"><ellipse cx="0" cy="0" rx="11" ry="22"/><ellipse cx="15" cy="0" rx="11" ry="22"/><ellipse cx="30" cy="0" rx="11" ry="22"/><ellipse cx="45" cy="0" rx="11" ry="22"/><ellipse cx="60" cy="0" rx="11" ry="22"/><ellipse cx="75" cy="0" rx="11" ry="22"/></g>
<g transform="translate(340,615) rotate(62)"><ellipse cx="0" cy="0" rx="12" ry="22"/><ellipse cx="17" cy="0" rx="12" ry="22"/><ellipse cx="34" cy="0" rx="12" ry="22"/><ellipse cx="51" cy="0" rx="12" ry="22"/><ellipse cx="68" cy="0" rx="12" ry="22"/><ellipse cx="85" cy="0" rx="12" ry="22"/></g>
<g transform="translate(400,560) rotate(35.5)"><ellipse cx="0" cy="0" rx="13" ry="42"/><ellipse cx="17" cy="0" rx="13" ry="42"/><ellipse cx="34" cy="0" rx="13" ry="42"/><ellipse cx="51" cy="0" rx="13" ry="42"/><ellipse cx="68" cy="0" rx="13" ry="42"/><ellipse cx="85" cy="0" rx="13" ry="42"/></g>
<g transform="translate(525,150) rotate(-28)"><ellipse cx="0" cy="0" rx="11" ry="28"/><ellipse cx="15" cy="0" rx="11" ry="28"/><ellipse cx="30" cy="0" rx="11" ry="28"/><ellipse cx="45" cy="0" rx="11" ry="28"/><ellipse cx="60" cy="0" rx="11" ry="28"/><ellipse cx="75" cy="0" rx="11" ry="28"/></g>
<g transform="translate(605,85) rotate(18)"><ellipse cx="0" cy="0" rx="12" ry="32"/><ellipse cx="16" cy="0" rx="12" ry="32"/><ellipse cx="32" cy="0" rx="12" ry="32"/><ellipse cx="48" cy="0" rx="12" ry="32"/><ellipse cx="64" cy="0" rx="12" ry="32"/><ellipse cx="80" cy="0" rx="12" ry="32"/><ellipse cx="96" cy="0" rx="12" ry="32"/><ellipse cx="112" cy="0" rx="12" ry="32"/></g>
<g transform="translate(565,225) rotate(-22)"><ellipse cx="0" cy="0" rx="12" ry="28"/><ellipse cx="16" cy="0" rx="12" ry="28"/><ellipse cx="32" cy="0" rx="12" ry="28"/><ellipse cx="48" cy="0" rx="12" ry="28"/><ellipse cx="64" cy="0" rx="12" ry="28"/><ellipse cx="80" cy="0" rx="12" ry="28"/></g>
<g transform="translate(595,250) rotate(95)"><ellipse cx="0" cy="0" rx="13" ry="35"/><ellipse cx="17" cy="0" rx="13" ry="35"/><ellipse cx="34" cy="0" rx="13" ry="35"/><ellipse cx="51" cy="0" rx="13" ry="35"/><ellipse cx="68" cy="0" rx="13" ry="35"/><ellipse cx="85" cy="0" rx="13" ry="35"/><ellipse cx="102" cy="0" rx="13" ry="35"/><ellipse cx="119" cy="0" rx="13" ry="35"/><ellipse cx="136" cy="0" rx="13" ry="35"/><ellipse cx="153" cy="0" rx="13" ry="35"/><ellipse cx="170" cy="0" rx="13" ry="35"/></g>
<g transform="translate(695,240) rotate(46)"><ellipse cx="0" cy="0" rx="11" ry="28"/><ellipse cx="15" cy="0" rx="11" ry="28"/><ellipse cx="30" cy="0" rx="11" ry="28"/><ellipse cx="45" cy="0" rx="11" ry="28"/><ellipse cx="60" cy="0" rx="11" ry="28"/><ellipse cx="75" cy="0" rx="11" ry="28"/></g>
<g transform="translate(645,350) rotate(58.6)"><ellipse cx="0" cy="0" rx="13" ry="30"/><ellipse cx="17.5" cy="0" rx="13" ry="30"/><ellipse cx="35" cy="0" rx="13" ry="30"/><ellipse cx="52.5" cy="0" rx="13" ry="30"/><ellipse cx="70" cy="0" rx="13" ry="30"/><ellipse cx="87.5" cy="0" rx="13" ry="30"/><ellipse cx="105" cy="0" rx="13" ry="30"/></g>
<g transform="translate(545,400) rotate(17)"><ellipse cx="0" cy="0" rx="12" ry="24"/><ellipse cx="17" cy="0" rx="12" ry="24"/><ellipse cx="34" cy="0" rx="12" ry="24"/><ellipse cx="51" cy="0" rx="12" ry="24"/><ellipse cx="68" cy="0" rx="12" ry="24"/></g>
<g transform="translate(665,445) rotate(24.4)"><ellipse cx="0" cy="0" rx="11" ry="24"/><ellipse cx="15" cy="0" rx="11" ry="24"/><ellipse cx="30" cy="0" rx="11" ry="24"/><ellipse cx="45" cy="0" rx="11" ry="24"/><ellipse cx="60" cy="0" rx="11" ry="24"/></g>
<g transform="translate(570,480) rotate(19.7)"><ellipse cx="0" cy="0" rx="12" ry="20"/><ellipse cx="18.5" cy="0" rx="12" ry="20"/><ellipse cx="37" cy="0" rx="12" ry="20"/><ellipse cx="55.5" cy="0" rx="12" ry="20"/><ellipse cx="74" cy="0" rx="12" ry="20"/></g>
</g>
<g fill="none" stroke="#3ccc3a" stroke-width="6">
<path d="M210,292 l10,8"/><path d="M130,858 l10,-8"/><path d="M0,562 l8,-6"/><path d="M400,630 l15,10"/><path d="M545,408 l12,4"/><path d="M597,105 l8,-8"/><path d="M575,190 l10,-6"/><path d="M698,315 l8,8"/><path d="M490,420 l12,0"/><path d="M425,690 l10,8"/><path d="M540,545 l6,10"/><path d="M520,230 l15,8"/><path d="M660,390 l10,15"/>
</g>
</g>

<!-- ================= TOP-MIDDLE INTERACTION ================= -->
<g>
<g fill="#eef2fa"><circle cx="1116" cy="500" r="14"/><circle cx="1060" cy="613" r="13"/><circle cx="1028" cy="612" r="13"/></g>
<circle cx="1140" cy="566" r="7" fill="url(#gB)"/>
<g fill="none" stroke-width="2" stroke-dasharray="2.5,1.8">
<path stroke="#4ce03c" d="M944,552 L976,561 M972,525 L977,558"/>
<path stroke="#eeaaee" d="M1058,604 L1031,570 M1103,597 L1101,560 M1025,603 L1032,572"/>
<path stroke="#e050c8" d="M1139,607 L1110,558"/>
<path stroke="#cfeeca" stroke-width="1.2" d="M1178,581 L1141,543"/>
</g>
<g fill="none" stroke="#9a9a9a" stroke-width="1">
<polygon points="1016,567 1023.5,554 1038.5,554 1046,567 1038.5,580 1023.5,580"/>
<polygon points="1089,553 1096.5,540 1111.5,540 1119,553 1111.5,566 1096.5,566"/>
<polygon points="1021,567 1026,558.5 1036,558.5 1041,567 1036,575.5 1026,575.5" stroke-dasharray="2,1.5"/>
<polygon points="1094,553 1099,544.5 1109,544.5 1114,553 1109,561.5 1099,561.5" stroke-dasharray="2,1.5"/>
</g>
<g fill="none" stroke-width="1">
<path stroke="#e8c020" d="M997,567 H1016 M997,567 V552 M997,567 V582"/>
<path stroke="#e02020" d="M983,568 H997"/>
<path stroke="#8080f0" d="M1046,567 L1057,558 L1070,558 L1089,553 M1119,553 L1134,554 L1141,541 M1134,554 L1141,567"/>
</g>
<g fill="#e02020" style="font-family:'Liberation Sans',sans-serif;font-size:5px"><text x="979" y="570">O</text><text x="994" y="551">O</text><text x="994" y="587">O</text></g>
<text x="975" y="562" style="font-family:'Liberation Sans',sans-serif;font-size:5px;fill:#333">H</text>
<g>
<circle cx="936" cy="549" r="9.5" fill="url(#gG)"/><circle cx="969" cy="516" r="9.5" fill="url(#gG)"/>
<circle cx="1007" cy="518" r="9.5" fill="url(#gL)"/><circle cx="1036" cy="497" r="9.5" fill="url(#gL)"/><circle cx="1080" cy="482" r="9.5" fill="url(#gL)"/><circle cx="1061" cy="517" r="9.5" fill="url(#gL)"/><circle cx="1116" cy="500" r="9.5" fill="url(#gL)"/><circle cx="1161" cy="504" r="9.5" fill="url(#gL)"/><circle cx="1181" cy="590" r="9.5" fill="url(#gL)"/><circle cx="1179" cy="631" r="9.5" fill="url(#gL)"/><circle cx="1089" cy="646" r="9.5" fill="url(#gL)"/>
<circle cx="1143" cy="616" r="9.5" fill="url(#gM)"/><circle cx="1106" cy="606" r="9.5" fill="url(#gP)"/><circle cx="1060" cy="613" r="9.5" fill="url(#gP)"/>
<circle cx="1028" cy="612" r="9.5" fill="url(#gL)"/><circle cx="993" cy="625" r="9.5" fill="url(#gL)"/><circle cx="961" cy="601" r="9.5" fill="url(#gL)"/>
</g>
<g class="ns">
<text x="936" y="548">GLY</text><text x="936" y="554.5">A:311</text>
<text x="969" y="515">ILE</text><text x="969" y="521.5">A:287</text>
<text x="1007" y="517">VAL</text><text x="1007" y="523.5">A:212</text>
<text x="1036" y="496">VAL</text><text x="1036" y="502.5">A:211</text>
<text x="1080" y="481">THR</text><text x="1080" y="487.5">A:210</text>
<text x="1061" y="516">ASN</text><text x="1061" y="522.5">A:209</text>
<text x="1116" y="499">ASP</text><text x="1116" y="505.5">A:208</text>
<text x="1161" y="503">ARG</text><text x="1161" y="509.5">A:304</text>
<text x="1181" y="589">SER</text><text x="1181" y="595.5">A:303</text>
<text x="1179" y="630">ALA</text><text x="1179" y="636.5">A:312</text>
<text x="1089" y="645">GLU</text><text x="1089" y="651.5">A:290</text>
<text x="1143" y="615">PHE</text><text x="1143" y="621.5">A:307</text>
<text x="1106" y="605">ALA</text><text x="1106" y="611.5">A:291</text>
<text x="1060" y="612">ARG</text><text x="1060" y="618.5">A:307</text>
<text x="1028" y="611">PHE</text><text x="1028" y="617.5">A:289</text>
<text x="993" y="624">PRO</text><text x="993" y="630.5">A:288</text>
<text x="961" y="600">ASP</text><text x="961" y="606.5">A:286</text>
</g>
</g>

<!-- ================= TOP-RIGHT INTERACTION ================= -->
<g>
<g fill="#eef2fa"><circle cx="1507" cy="425" r="13"/><circle cx="1624" cy="455" r="13"/><circle cx="1666" cy="613" r="13"/><circle cx="1619" cy="618" r="13"/><circle cx="1535" cy="607" r="13"/><circle cx="1639" cy="491" r="13"/><circle cx="1490" cy="517" r="12"/></g>
<circle cx="1577" cy="450" r="7" fill="url(#gB)"/>
<g fill="none" stroke-width="2" stroke-dasharray="2.5,1.8">
<path stroke="#e040c0" d="M1617,462 L1567,492"/>
<path stroke="#ef9a28" d="M1495,500 L1526,544"/>
<path stroke="#eeaaee" d="M1635,500 L1590,545 M1660,534 L1623,578 M1573,596 L1622,579 M1463,611 L1500,579 M1460,611 L1488,556"/>
<path stroke="#cfeeca" stroke-width="1.2" d="M1510,434 L1576,451 M1515,430 L1573,455 M1452,528 L1488,556 M1452,572 L1500,579 M1454,575 L1488,557 M1663,604 L1622,580"/>
</g>
<g fill="none" stroke="#9a9a9a" stroke-width="1">
<polygon points="1562,474 1576,482 1576,498 1562,506 1548,498 1548,482"/>
<polygon points="1532,529 1546,537 1546,553 1532,561 1518,553 1518,537"/>
<polygon points="1592,529 1606,537 1606,553 1592,561 1578,553 1578,537"/>
<path d="M1562,506 V528 M1565,506 V526 M1562,528 L1546,537 M1562,528 L1578,537"/>
</g>
<path fill="none" stroke="#8080f0" stroke-width="1" d="M1562,474 V458 L1548,450 M1562,458 L1576,450 M1518,553 L1500,563 L1488,555 M1500,563 V579 M1606,553 L1622,563 L1634,555 M1622,563 V579"/>
<g>
<circle cx="1507" cy="425" r="9.5" fill="url(#gL)"/><circle cx="1624" cy="455" r="9.5" fill="url(#gM)"/><circle cx="1490" cy="490" r="9.5" fill="url(#gO)"/><circle cx="1490" cy="517" r="9.5" fill="url(#gL)"/><circle cx="1448" cy="519" r="9.5" fill="url(#gL)"/><circle cx="1407" cy="542" r="9.5" fill="url(#gL)"/><circle cx="1639" cy="491" r="9.5" fill="url(#gP)"/><circle cx="1690" cy="500" r="9.5" fill="url(#gL)"/><circle cx="1666" cy="525" r="9.5" fill="url(#gP)"/><circle cx="1705" cy="542" r="9.5" fill="url(#gL)"/><circle cx="1686" cy="577" r="9.5" fill="url(#gL)"/><circle cx="1666" cy="613" r="9.5" fill="url(#gL)"/><circle cx="1619" cy="618" r="9.5" fill="url(#gL)"/><circle cx="1570" cy="604" r="9.5" fill="url(#gP)"/><circle cx="1535" cy="607" r="9.5" fill="url(#gL)"/><circle cx="1448" cy="580" r="9.5" fill="url(#gL)"/><circle cx="1459" cy="620" r="9.5" fill="url(#gP)"/><circle cx="1506" cy="643" r="9.5" fill="url(#gL)"/>
</g>
<g class="ns">
<text x="1507" y="424">SER</text><text x="1507" y="430.5">A:203</text>
<text x="1624" y="454">PHE</text><text x="1624" y="460.5">A:204</text>
<text x="1490" y="489">ARG</text><text x="1490" y="495.5">A:400</text>
<text x="1490" y="516">GLU</text><text x="1490" y="522.5">A:397</text>
<text x="1448" y="518">SER</text><text x="1448" y="524.5">A:310</text>
<text x="1407" y="541">ASN</text><text x="1407" y="547.5">A:312</text>
<text x="1639" y="490">ARG</text><text x="1639" y="496.5">A:307</text>
<text x="1690" y="499">VAL</text><text x="1690" y="505.5">A:211</text>
<text x="1666" y="524">PHE</text><text x="1666" y="530.5">A:307</text>
<text x="1705" y="541">THR</text><text x="1705" y="547.5">A:210</text>
<text x="1686" y="576">ASN</text><text x="1686" y="582.5">A:209</text>
<text x="1666" y="612">ASP</text><text x="1666" y="618.5">A:208</text>
<text x="1619" y="617">PHE</text><text x="1619" y="623.5">A:289</text>
<text x="1570" y="603">ALA</text><text x="1570" y="609.5">A:291</text>
<text x="1535" y="606">GLU</text><text x="1535" y="612.5">A:290</text>
<text x="1448" y="579">GLU</text><text x="1448" y="585.5">A:313</text>
<text x="1459" y="619">PRO</text><text x="1459" y="625.5">A:288</text>
<text x="1506" y="642">ARG</text><text x="1506" y="648.5">A:314</text>
</g>
</g>

<!-- ================= BOTTOM-LEFT INTERACTION (dibenzofuran) ================= -->
<g transform="translate(505,680) scale(0.333333)">
<g fill="#eef2fa"><circle cx="498" cy="585" r="60"/><circle cx="680" cy="652" r="50"/><circle cx="840" cy="45" r="48"/><circle cx="975" cy="125" r="58"/><circle cx="678" cy="85" r="60"/><circle cx="405" cy="85" r="60"/><circle cx="292" cy="620" r="48"/><circle cx="1075" cy="310" r="48"/></g>
<circle cx="505" cy="283" r="18" fill="url(#gB)"/><circle cx="767" cy="215" r="22" fill="url(#gB)"/>
<g fill="none" stroke-width="9" stroke-dasharray="14,9">
<path stroke="#f2b4f2" d="M270,180 L430,445 M405,140 L393,325 M415,140 L430,445 M430,138 L520,335 M445,132 L620,298 M950,165 L740,335"/>
<path stroke="#f0901a" stroke-width="11" d="M665,145 L630,300 M688,140 L725,335"/>
</g>
<g fill="none" stroke="#9a9a9a" stroke-width="6">
<polygon points="505,283 573,298 590,358 545,410 478,398 460,335"/>
<polygon points="680,298 750,283 793,333 775,398 708,412 663,358"/>
<path d="M590,358 L663,358"/>
<polygon points="510,305 560,315 572,355 540,390 490,380 478,335" stroke-width="4" stroke-dasharray="8,6"/>
<polygon points="690,318 742,305 772,340 760,385 712,395 682,358" stroke-width="4" stroke-dasharray="8,6"/>
<path d="M595,335 L625,290 L655,335" stroke-width="4" stroke-dasharray="8,6"/>
</g>
<path fill="none" stroke="#e02020" stroke-width="6" d="M573,298 L618,265 M632,265 L680,298"/>
<g fill="none" stroke="#60e040" stroke-width="6"><path d="M460,335 L405,322 M478,398 L440,440 M750,283 L765,230 M793,333 L845,322 M775,398 L810,442 M708,412 L688,470"/></g>
<g style="font-family:'Liberation Sans',sans-serif;font-size:22px;fill:#50d030" text-anchor="middle">
<text x="390" y="330">Cl</text><text x="432" y="458">Cl</text><text x="767" y="228">Cl</text><text x="855" y="330">Cl</text><text x="818" y="460">Cl</text><text x="684" y="488">Cl</text>
</g>
<text x="625" y="270" text-anchor="middle" style="font-family:'Liberation Sans',sans-serif;font-size:22px;fill:#e02020">O</text>
<g>
<circle cx="85" cy="243" r="42" fill="url(#gL)"/><circle cx="220" cy="325" r="42" fill="url(#gL)"/><circle cx="255" cy="472" r="42" fill="url(#gL)"/><circle cx="292" cy="625" r="42" fill="url(#gL)"/><circle cx="498" cy="598" r="42" fill="url(#gL)"/><circle cx="680" cy="658" r="42" fill="url(#gL)"/><circle cx="880" cy="650" r="42" fill="url(#gL)"/><circle cx="992" cy="503" r="42" fill="url(#gL)"/><circle cx="1075" cy="315" r="42" fill="url(#gL)"/><circle cx="840" cy="50" r="42" fill="url(#gL)"/>
<circle cx="975" cy="135" r="42" fill="url(#gP)"/><circle cx="678" cy="100" r="44" fill="url(#gO)"/><circle cx="405" cy="100" r="42" fill="url(#gP)"/><circle cx="250" cy="140" r="42" fill="url(#gP)"/>
</g>
<g class="n">
<text x="85" y="237">THR</text><text x="85" y="265">A:210</text>
<text x="220" y="319">ASP</text><text x="220" y="347">A:208</text>
<text x="255" y="466">ASN</text><text x="255" y="494">A:209</text>
<text x="292" y="619">VAL</text><text x="292" y="647">A:211</text>
<text x="498" y="592">PHE</text><text x="498" y="620">A:289</text>
<text x="680" y="652">ASP</text><text x="680" y="680">A:286</text>
<text x="880" y="644">ARG</text><text x="880" y="672">A:314</text>
<text x="992" y="497">SER</text><text x="992" y="525">A:315</text>
<text x="1075" y="309">GLU</text><text x="1075" y="337">A:313</text>
<text x="840" y="44">ARG</text><text x="840" y="72">A:400</text>
<text x="975" y="129">PRO</text><text x="975" y="157">A:288</text>
<text x="678" y="94">GLU</text><text x="678" y="122">A:397</text>
<text x="405" y="94">ARG</text><text x="405" y="122">A:207</text>
<text x="250" y="134">VAL</text><text x="250" y="162">A:212</text>
</g>
</g>

<!-- ================= BOTTOM-MIDDLE INTERACTION (dioxin) ================= -->
<g transform="translate(950,700) scale(0.333333)">
<g fill="#eef2fa"><circle cx="140" cy="165" r="58"/><circle cx="897" cy="425" r="52"/><circle cx="258" cy="515" r="55"/><circle cx="408" cy="480" r="50"/><circle cx="540" cy="480" r="50"/><circle cx="692" cy="525" r="60"/><circle cx="532" cy="590" r="58"/><circle cx="865" cy="570" r="55"/><circle cx="700" cy="648" r="48"/><circle cx="62" cy="518" r="48"/></g>
<circle cx="252" cy="368" r="35" fill="url(#gB)"/><circle cx="370" cy="362" r="22" fill="url(#gB)"/>
<g fill="none" stroke="#f2b4f2" stroke-width="9" stroke-dasharray="14,9">
<path d="M252,250 L80,490 M255,375 L258,480 M368,318 L285,482 M605,320 L680,500 M718,248 L870,398"/>
</g>
<g fill="none" stroke="#9a9a9a" stroke-width="6">
<polygon points="315,270 370,240 428,270 428,330 370,362 315,330"/>
<polygon points="545,270 602,240 660,270 660,330 602,362 545,330"/>
<polygon points="330,278 370,258 412,278 412,322 370,344 330,322" stroke-width="4" stroke-dasharray="8,6"/>
<polygon points="560,278 602,258 645,278 645,322 602,344 560,322" stroke-width="4" stroke-dasharray="8,6"/>
</g>
<path fill="none" stroke="#e02020" stroke-width="6" d="M428,270 L478,242 M492,242 L545,270 M428,330 L478,365 M492,365 L545,330"/>
<g fill="none" stroke="#60e040" stroke-width="6"><path d="M315,270 L262,244 M315,330 L262,366 M660,270 L710,244 M660,330 L710,366"/></g>
<g style="font-family:'Liberation Sans',sans-serif;font-size:22px;fill:#50d030" text-anchor="middle">
<text x="252" y="250">Cl</text><text x="252" y="376">Cl</text><text x="715" y="250">Cl</text><text x="715" y="376">Cl</text>
</g>
<g style="font-family:'Liberation Sans',sans-serif;font-size:20px;fill:#e02020" text-anchor="middle"><text x="485" y="248">O</text><text x="485" y="375">O</text></g>
<g>
<circle cx="322" cy="92" r="42" fill="url(#gL)"/><circle cx="140" cy="168" r="42" fill="url(#gL)"/><circle cx="900" cy="200" r="42" fill="url(#gL)"/>
<circle cx="897" cy="430" r="42" fill="url(#gP)"/><circle cx="62" cy="522" r="42" fill="url(#gP)"/><circle cx="258" cy="520" r="42" fill="url(#gP)"/>
<circle cx="408" cy="485" r="42" fill="url(#gL)"/><circle cx="540" cy="485" r="42" fill="url(#gL)"/>
<circle cx="692" cy="535" r="42" fill="url(#gP)"/>
<circle cx="532" cy="600" r="42" fill="url(#gL)"/><circle cx="865" cy="575" r="42" fill="url(#gL)"/><circle cx="700" cy="652" r="42" fill="url(#gL)"/><circle cx="373" cy="665" r="42" fill="url(#gL)"/>
</g>
<g class="n">
<text x="322" y="86">THR</text><text x="322" y="114">A:210</text>
<text x="140" y="162">ASP</text><text x="140" y="190">A:208</text>
<text x="900" y="194">GLY</text><text x="900" y="222">A:213</text>
<text x="897" y="424">VAL</text><text x="897" y="452">A:212</text>
<text x="62" y="516">PHE</text><text x="62" y="544">A:307</text>
<text x="258" y="514">ALA</text><text x="258" y="542">A:291</text>
<text x="408" y="479">ASN</text><text x="408" y="507">A:209</text>
<text x="540" y="479">VAL</text><text x="540" y="507">A:211</text>
<text x="692" y="529">ARG</text><text x="692" y="557">A:207</text>
<text x="532" y="594">PHE</text><text x="532" y="622">A:289</text>
<text x="865" y="569">ASP</text><text x="865" y="597">A:286</text>
<text x="700" y="646">PRO</text><text x="700" y="674">A:288</text>
<text x="373" y="659">GLU</text><text x="373" y="687">A:290</text>
</g>
</g>

<!-- ================= BOTTOM-RIGHT INTERACTION (EDTA) ================= -->
<g transform="translate(1380,700) scale(0.333333)">
<g fill="#eef2fa"><circle cx="535" cy="95" r="55"/><circle cx="348" cy="185" r="58"/><circle cx="440" cy="208" r="58"/><circle cx="215" cy="470" r="58"/><circle cx="793" cy="495" r="50"/><circle cx="773" cy="385" r="48"/><circle cx="220" cy="718" r="48"/></g>
<circle cx="435" cy="505" r="20" fill="url(#gB)"/>
<g fill="none" stroke="#4ee036" stroke-width="9" stroke-dasharray="12,8">
<path d="M695,222 L755,95 M695,222 L840,248 M238,395 L160,505 M340,568 L450,700 M437,508 L462,695 M568,508 L755,505 M550,538 L640,630"/>
</g>
<g fill="none" stroke="#9a9a9a" stroke-width="5">
<path d="M275,335 L340,318 M340,455 L370,505 M565,275 L630,285 M565,395 L535,455"/>
</g>
<g fill="none" stroke="#8888e8" stroke-width="5">
<path d="M340,318 L368,392 L340,455 M368,392 L435,388 L490,350 L535,340 L565,275 M535,340 L565,395"/>
</g>
<g fill="none" stroke="#e02020" stroke-width="5">
<path d="M275,335 L240,285 M275,335 L240,390 M268,330 L233,385 M370,505 L432,507 M370,512 L432,514 M370,505 L340,562 M630,285 L663,228 M630,285 L663,335 M637,281 L670,331 M535,455 L470,450 M535,462 L470,457 M535,455 L565,505"/>
</g>
<g fill="#fff" stroke="#e02020" stroke-width="4">
<circle cx="238" cy="282" r="7"/><circle cx="238" cy="393" r="7"/><circle cx="437" cy="508" r="7"/><circle cx="338" cy="565" r="7"/><circle cx="663" cy="222" r="7"/><circle cx="665" cy="338" r="7"/><circle cx="468" cy="452" r="7"/><circle cx="565" cy="508" r="7"/>
</g>
<g style="font-family:'Liberation Sans',sans-serif;font-size:20px;fill:#444" text-anchor="middle"><text x="696" y="229">H</text><text x="548" y="542">H</text></g>
<g>
<circle cx="535" cy="100" r="40" fill="url(#gL)"/><circle cx="767" cy="60" r="40" fill="url(#gG)"/><circle cx="348" cy="195" r="40" fill="url(#gL)"/><circle cx="440" cy="220" r="40" fill="url(#gL)"/><circle cx="62" cy="260" r="40" fill="url(#gL)"/><circle cx="870" cy="260" r="40" fill="url(#gG)"/><circle cx="58" cy="420" r="40" fill="url(#gL)"/><circle cx="773" cy="390" r="40" fill="url(#gL)"/><circle cx="215" cy="480" r="40" fill="url(#gL)"/><circle cx="140" cy="540" r="40" fill="url(#gG)"/><circle cx="793" cy="505" r="40" fill="url(#gG)"/><circle cx="48" cy="645" r="40" fill="url(#gL)"/><circle cx="662" cy="660" r="40" fill="url(#gG)"/><circle cx="552" cy="682" r="40" fill="url(#gL)"/><circle cx="220" cy="725" r="40" fill="url(#gL)"/><circle cx="468" cy="735" r="40" fill="url(#gG)"/>
</g>
<g class="n">
<text x="535" y="94">ASP</text><text x="535" y="122">A:286</text>
<text x="767" y="54">ILE</text><text x="767" y="82">A:287</text>
<text x="348" y="189">ARG</text><text x="348" y="217">A:207</text>
<text x="440" y="214">PRO</text><text x="440" y="242">A:288</text>
<text x="62" y="254">ALA</text><text x="62" y="282">A:396</text>
<text x="870" y="254">GLY</text><text x="870" y="282">A:213</text>
<text x="58" y="414">ARG</text><text x="58" y="442">A:314</text>
<text x="773" y="384">VAL</text><text x="773" y="412">A:212</text>
<text x="215" y="474">GLU</text><text x="215" y="502">A:397</text>
<text x="140" y="534">SER</text><text x="140" y="562">A:315</text>
<text x="793" y="499">PHE</text><text x="793" y="527">A:289</text>
<text x="48" y="639">ILE</text><text x="48" y="667">A:337</text>
<text x="662" y="654">VAL</text><text x="662" y="682">A:211</text>
<text x="552" y="676">ASN</text><text x="552" y="704">A:209</text>
<text x="220" y="719">GLU</text><text x="220" y="747">A:313</text>
<text x="468" y="729">ARG</text><text x="468" y="757">A:400</text>
</g>
</g>
</svg>
</body></html>
